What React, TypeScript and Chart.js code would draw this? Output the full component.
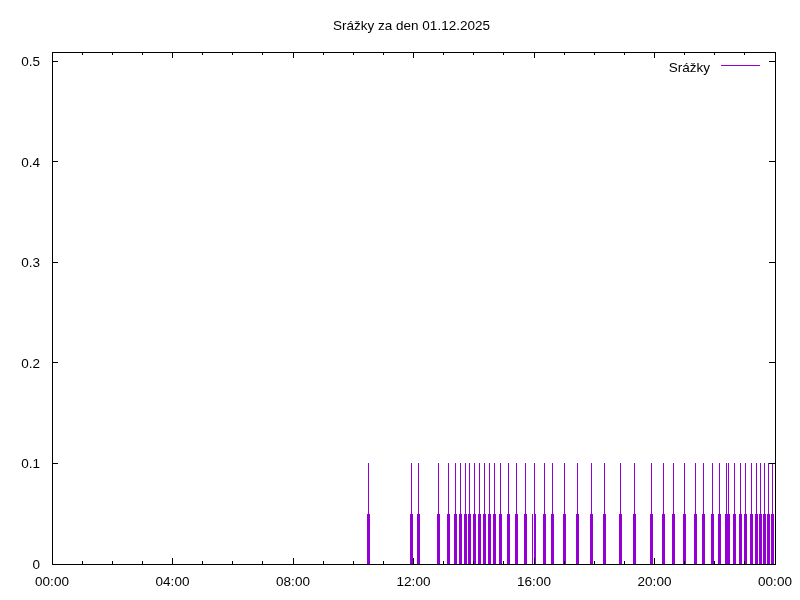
import React, { useEffect, useRef } from "react";
import { Chart, registerables } from "chart.js";

Chart.register(...registerables);

const TITLE = "Srážky za den 01.12.2025";
const SERIES_LABEL = "Srážky";
const COLOR = "#9400d3";
const FONT = "13.5px 'Liberation Sans', Arial, sans-serif";

// readings of 0.1 mm
const fullTimes = [
  "10:31", "11:57", "12:09", "12:50", "13:10", "13:24", "13:34", "13:44", "13:52", "14:02",
  "14:12", "14:22", "14:32", "14:42", "14:54", "15:10", "15:26", "15:44", "16:00", "16:20",
  "16:36", "17:00", "17:26", "17:54", "18:20", "18:52", "19:20", "19:54", "20:18", "20:38",
  "21:00", "21:22", "21:38", "21:56", "22:10", "22:24", "22:28", "22:40", "22:52", "23:02",
  "23:14", "23:24", "23:32", "23:40", "23:48", "23:56",
];
const fullValue = 0.1;

// readings of 0.05 mm
const halfTimes = [
  "10:29", "10:33", "11:55", "11:59", "12:07", "12:11", "12:48", "12:52", "13:08", "13:12",
  "13:22", "13:26", "13:32", "13:36", "13:42", "13:46", "13:50", "13:54", "14:00", "14:04",
  "14:10", "14:14", "14:20", "14:24", "14:30", "14:34", "14:40", "14:44", "14:52", "14:56",
  "15:08", "15:12", "15:24", "15:28", "15:42", "15:46", "15:58", "16:02", "16:18", "16:22",
  "16:34", "16:38", "16:58", "17:02", "17:24", "17:28", "17:52", "17:56", "18:18", "18:22",
  "18:50", "18:54", "19:18", "19:22", "19:52", "19:56", "20:16", "20:20", "20:36", "20:40",
  "20:58", "21:02", "21:20", "21:24", "21:36", "21:40", "21:54", "21:58", "22:08", "22:12",
  "22:22", "22:26", "22:30", "22:38", "22:42", "22:50", "22:54", "23:00", "23:04", "23:12",
  "23:16", "23:22", "23:26", "23:30", "23:34", "23:38", "23:42", "23:46", "23:50", "23:54",
  "23:58",
];
const halfValue = 0.05;

const yTicks = [0, 0.1, 0.2, 0.3, 0.4, 0.5];
const yTickLabels = ["0", "0.1", "0.2", "0.3", "0.4", "0.5"];
const xMajorTicks = [0, 240, 480, 720, 960, 1200, 1440];
const xTickLabels = ["00:00", "04:00", "08:00", "12:00", "16:00", "20:00", "00:00"];
const xMinorStep = 60;
const X_MAX = 1440;
const Y_MAX = 0.509;

const toMin = (s: string) => {
  const [h, m] = s.split(":").map(Number);
  return h * 60 + m;
};

const gnuplotPlugin = {
  id: "gnuplotLook",
  afterDatasetsDraw(chart: any) {
    const { ctx, chartArea, scales } = chart;
    const { left, right, top, bottom } = chartArea;
    const x = scales.x;
    const y = scales.y;
    ctx.save();

    // impulses
    ctx.strokeStyle = COLOR;
    ctx.lineWidth = 1;
    const y0 = y.getPixelForValue(0);
    chart.data.datasets.forEach((_: any, di: number) => {
      const meta = chart.getDatasetMeta(di);
      meta.data.forEach((el: any) => {
        const px = Math.floor(el.x) + 0.5;
        ctx.beginPath();
        ctx.moveTo(px, y0);
        ctx.lineTo(px, Math.round(el.y));
        ctx.stroke();
      });
    });

    // border
    ctx.strokeStyle = "#000";
    ctx.lineWidth = 1;
    ctx.strokeRect(left + 0.5, top + 0.5, right - left, bottom - top);

    // x ticks (inward, bottom & top)
    ctx.beginPath();
    for (let v = 0; v <= X_MAX; v += xMinorStep) {
      const px = Math.floor(x.getPixelForValue(v)) + 0.5;
      const len = xMajorTicks.includes(v) ? 6 : 3;
      ctx.moveTo(px, bottom);
      ctx.lineTo(px, bottom - len);
      ctx.moveTo(px, top);
      ctx.lineTo(px, top + len);
    }
    // y ticks (inward, left & right)
    yTicks.forEach((v) => {
      const py = Math.floor(y.getPixelForValue(v)) + 0.5;
      ctx.moveTo(left, py);
      ctx.lineTo(left + 6, py);
      ctx.moveTo(right, py);
      ctx.lineTo(right - 6, py);
    });
    ctx.stroke();

    // labels
    ctx.fillStyle = "#000";
    ctx.font = FONT;
    ctx.textBaseline = "middle";
    ctx.textAlign = "right";
    yTicks.forEach((v, i) => {
      ctx.fillText(yTickLabels[i], left - 12, Math.round(y.getPixelForValue(v)) + 1.5);
    });
    ctx.textAlign = "center";
    xMajorTicks.forEach((v, i) => {
      ctx.fillText(xTickLabels[i], x.getPixelForValue(v), bottom + 18);
    });

    // title
    ctx.fillText(TITLE, (left + right) / 2 - 2, 26);

    // legend
    ctx.textAlign = "right";
    ctx.fillText(SERIES_LABEL, 710, 68);
    ctx.strokeStyle = COLOR;
    ctx.beginPath();
    ctx.moveTo(721, 65.5);
    ctx.lineTo(760, 65.5);
    ctx.stroke();

    ctx.restore();
  },
};

export default function App() {
  const canvasRef = useRef<HTMLCanvasElement | null>(null);

  useEffect(() => {
    if (!canvasRef.current) return;
    const chart = new Chart(canvasRef.current, {
      type: "scatter",
      data: {
        datasets: [
          {
            label: SERIES_LABEL,
            data: halfTimes.map((t) => ({ x: toMin(t), y: halfValue })),
            pointRadius: 0,
            showLine: false,
            borderColor: COLOR,
            backgroundColor: COLOR,
          },
          {
            label: SERIES_LABEL,
            data: fullTimes.map((t) => ({ x: toMin(t), y: fullValue })),
            pointRadius: 0,
            showLine: false,
            borderColor: COLOR,
            backgroundColor: COLOR,
          },
        ],
      },
      options: {
        responsive: false,
        animation: false,
        devicePixelRatio: 1,
        layout: { padding: { left: 52, right: 25, top: 52, bottom: 36 } },
        scales: {
          x: { type: "linear", min: 0, max: X_MAX, display: false },
          y: { type: "linear", min: 0, max: Y_MAX, display: false },
        },
        plugins: {
          legend: { display: false },
          title: { display: false },
          tooltip: { enabled: false },
        },
        events: [],
      },
      plugins: [gnuplotPlugin],
    });
    return () => chart.destroy();
  }, []);

  return (
    <div style={{ position: "absolute", left: 0, top: 0, width: 800, height: 600, background: "#fff" }}>
      <canvas ref={canvasRef} width={800} height={600} />
    </div>
  );
}
